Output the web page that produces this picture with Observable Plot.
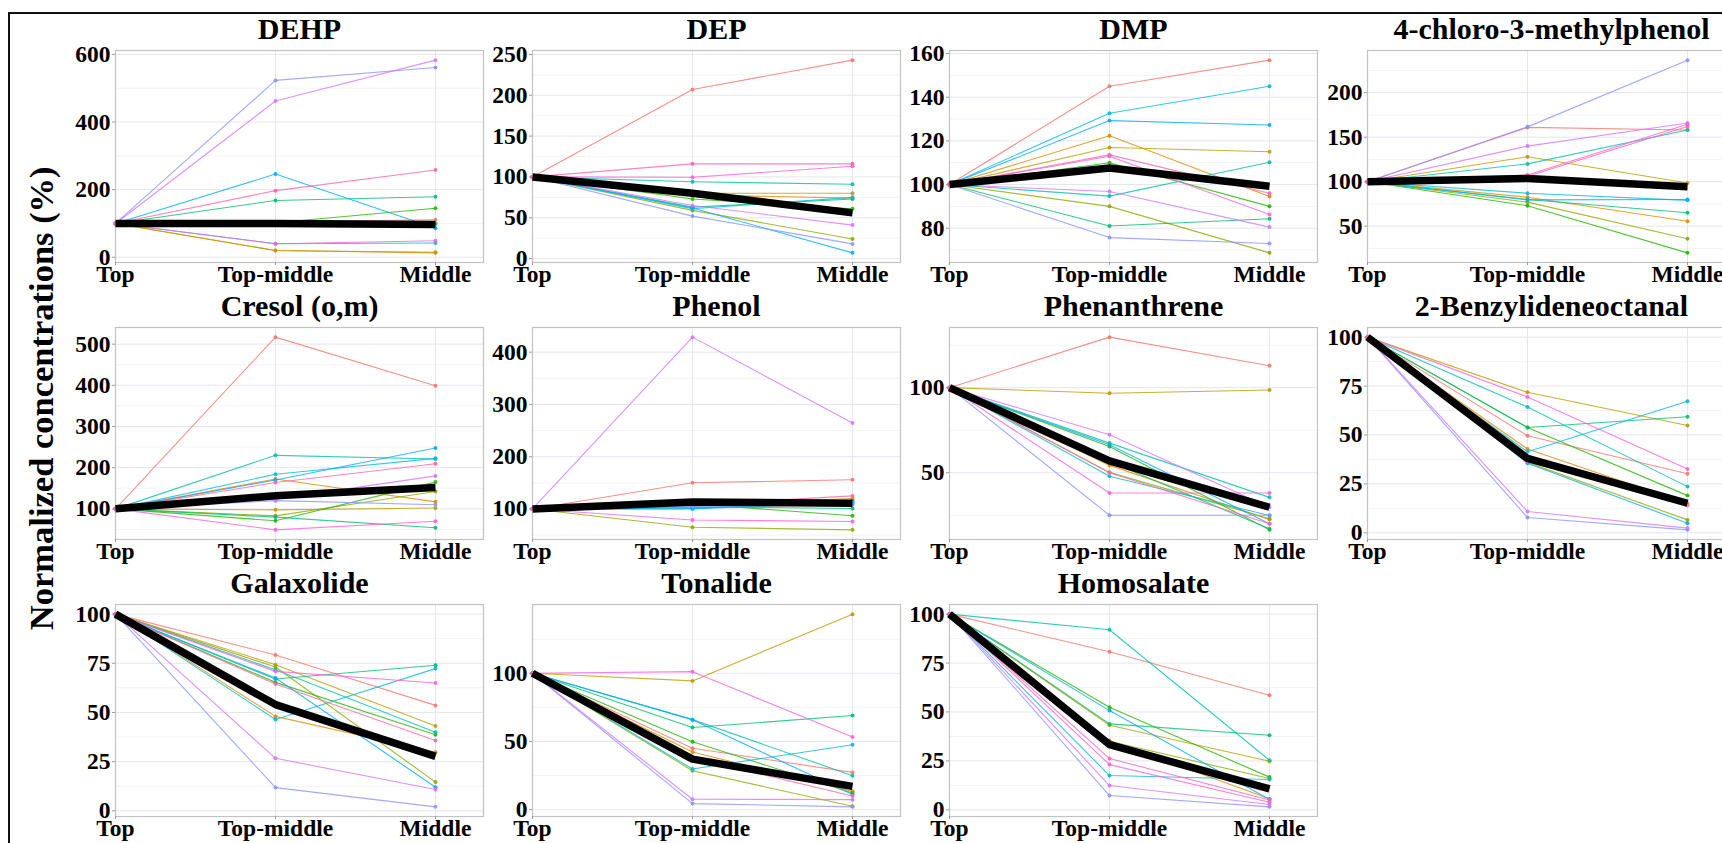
<!DOCTYPE html>
<html>
<head>
<meta charset="utf-8">
<script src="https://cdn.jsdelivr.net/npm/d3@7"></script>
<script src="https://cdn.jsdelivr.net/npm/@observablehq/plot@0.6"></script>
<style>
  html, body { margin: 0; padding: 0; background: #fff; overflow: hidden; }
  #wrap { position: relative; width: 1722px; height: 843px; overflow: hidden; background: #fff; }
  #frame { position: absolute; left: 8px; top: 12px; width: 2000px; height: 2000px;
           border-left: 2.5px solid #111; border-top: 2.5px solid #111; }
  .panel { position: absolute; }
  .panel svg { max-width: none !important; display: block; }
  .panel svg, .panel svg g, .panel svg text { font-family: "Liberation Serif", serif !important; font-weight: bold !important; }
  #ylab { position: absolute; width: 800px; height: 34.5px; line-height: 1; text-align: center;
          font-family: "Liberation Serif", serif; font-weight: bold; font-size: 34.5px;
          color: #000; transform: rotate(-90deg); white-space: nowrap; }
</style>
</head>
<body>
<div id="wrap"><div id="frame"></div><div id="ylab">Normalized concentrations (%)</div></div>
<script>
// ---------------- data ----------------
const xLabels = ["Top", "Top-middle", "Middle"];
const topValue = 100;
const seriesIds = ["S1","S2","S3","S4","S5","S6","S7","S8","S9","S10","S11","S12","S13"];
const seriesColors = ["#F8766D","#E18A00","#BE9C00","#8CAB00","#24B700","#00BE70","#00C1AB","#00BBDA","#00ACFC","#8B93FF","#D575FE","#F962DD","#FF65AC"];

const compounds = ["DEHP","DEP","DMP","4-chloro-3-methylphenol","Cresol (o,m)","Phenol","Phenanthrene","2-Benzylideneoctanal","Galaxolide","Tonalide","Homosalate"];

// [Top-middle, Middle] per series (Top = 100 for all)
const dehp = [[105,111],[20,13],[20,15],[98,100],[102,145],[168,179],[95,98],[40,42],[246,86],[523,561],[462,583],[40,49],[197,258]];
const dep = [[207,243],[78,74],[80,80],[59,24],[73,61],[63,73],[94,91],[61,75],[62,7],[52,18],[65,41],[99.6,113],[116,116]];
const dmp = [[145,157],[122.4,94.5],[117,115],[90,68.7],[110,90],[81,84.3],[94.7,110.2],[132.7,145],[129.3,127.3],[75.7,73],[96.8,80.5],[113,86.3],[113.6,96]];
const chloro = [[161,158],[82.5,55.6],[128,98.5],[77,35.8],[73,20],[80,65],[120,158],[87,79],[79.5,80],[161.6,236.6],[140,166],[107.5,164.5],[106,162]];
const cresol = [[517,399],[172.6,117],[97.6,102],[83,142],[71,165],[80,54],[230,221],[184,222.6],[170,247.6],[120,110],[123,180],[49,70],[164,209.7]];
const phenol = [[150,156],[106,117],[108,120],[65,60],[110,87],[104,101],[102,110],[100,112.7],[101,115],[105,108],[428.7,264.6],[79,76],[108,125]];
const phenanthrene = [[129.7,112.9],[54.3,22.5],[96.7,98.6],[50.2,22.9],[65.4,16.4],[56.6,17],[67.4,35.5],[47.9,24.8],[66.4,20],[25,25],[72.3,29.7],[38.1,38.1],[50,20]];
const benzyl = [[49.6,30.2],[42.8,15],[71.8,54.8],[36,6.6],[53.8,19],[53.8,59.3],[64.3,23.6],[41.4,67.2],[35.5,4.9],[7.8,1.5],[10.9,2.4],[69.4,32.6],[36.5,14]];
const galaxolide = [[79.2,53.6],[48,29.8],[74.3,43.1],[73.1,14.6],[65.3,38.7],[67,74],[71.7,39.9],[46.4,72.3],[67.5,12],[11.8,2],[26.7,10.8],[70.9,65],[64.5,35.7]];
const tonalide = [[45,27.3],[42.2,13.4],[94.4,143.4],[28.5,2.4],[49.8,12.2],[60.2,69],[66,24.9],[29.8,47.6],[66,11],[4.4,2],[7.6,7.3],[101.2,53.2],[38,10]];
const homosalate = [[80.8,58.5],[35.4,5.6],[43.2,24.8],[35,16],[52.4,16.7],[43.9,38.1],[92,25.3],[17.5,15.5],[50.7,5.3],[7.3,1.5],[12.4,2.7],[23.1,3.9],[26.2,5]];

// summary (thick black) line: Top, Top-middle, Middle
const dehpMean = [100,100,97];
const depMean = [100,80,56];
const dmpMean = [100,107.6,99.2];
const chloroMean = [100,103.7,94.4];
const cresolMean = [100,132,151.6];
const phenolMean = [100,113.3,111];
const phenanthreneMean = [100,57,29.7];
const benzylMean = [100,38,15.1];
const galaxolideMean = [100,54,27.7];
const tonalideMean = [100,37,17];
const homosalateMean = [100,33.3,10.7];

// y tick labels per panel
const dehpTicks = [0,200,400,600];
const depTicks = [0,50,100,150,200,250];
const dmpTicks = [80,100,120,140,160];
const chloroTicks = [50,100,150,200];
const cresolTicks = [100,200,300,400,500];
const phenolTicks = [100,200,300,400];
const phenanthreneTicks = [50,100];
const benzylTicks = [0,25,50,75,100];
const galaxolideTicks = [0,25,50,75,100];
const tonalideTicks = [0,50,100];
const homosalateTicks = [0,25,50,75,100];

const panelValues = [dehp, dep, dmp, chloro, cresol, phenol, phenanthrene, benzyl, galaxolide, tonalide, homosalate];
const panelMeans = [dehpMean, depMean, dmpMean, chloroMean, cresolMean, phenolMean, phenanthreneMean, benzylMean, galaxolideMean, tonalideMean, homosalateMean];
const panelTicks = [dehpTicks, depTicks, dmpTicks, chloroTicks, cresolTicks, phenolTicks, phenanthreneTicks, benzylTicks, galaxolideTicks, tonalideTicks, homosalateTicks];

// ---------------- layout ----------------
const colLefts = [115, 532, 949, 1367];
const rowTops = [50, 327, 604];
const PW = 368, PH = 212;
const ML = 72, MR = 4, MT = 42, MB = 34;
const FONT = '"Liberation Serif", serif';

const wrap = document.getElementById("wrap");
const ylab = document.getElementById("ylab");
ylab.style.left = (41 - 400) + "px";
ylab.style.top = (398 - 17.25) + "px";

compounds.forEach((title, k) => {
  const col = k % 4, row = Math.floor(k / 4);
  const vals = panelValues[k], mean = panelMeans[k], ticks = panelTicks[k];
  const rows = [];
  vals.forEach((v, i) => {
    [topValue, v[0], v[1]].forEach((y, x) => rows.push({s: seriesIds[i], x, y}));
  });
  const meanRows = mean.map((y, x) => ({x, y}));
  const all = rows.map(d => d.y).concat(mean);
  const [lo, hi] = d3.extent(all);
  const pad = (hi - lo) * 0.05;
  const dom = [lo - pad, hi + pad];
  const step = ticks[1] - ticks[0];
  const minors = ticks.map(t => t - step / 2).concat([ticks[ticks.length - 1] + step / 2])
    .filter(t => t > dom[0] && t < dom[1]);

  const W = ML + PW + MR, H = MT + PH + MB;
  const chart = Plot.plot({
    width: W, height: H,
    marginLeft: ML, marginRight: MR, marginTop: MT, marginBottom: MB,
    x: {domain: [0, 2.3], label: null},
    y: {domain: dom, label: null},
    color: {domain: seriesIds, range: seriesColors},
    style: {fontFamily: FONT, fontSize: "23.5px", fontWeight: "bold", color: "#000", background: "transparent", overflow: "visible"},
    marks: [
      Plot.ruleY(minors, {stroke: "#f1f3f6", strokeWidth: 1}),
      Plot.ruleY(ticks, {stroke: "#e3e6ec", strokeWidth: 1}),
      Plot.ruleX([0, 1, 2], {stroke: "#e3e6ec", strokeWidth: 1}),
      Plot.frame({stroke: "#c2c2c2", strokeWidth: 1.2}),
      Plot.axisY({ticks, tickSize: 3, tickPadding: 2, stroke: "#9a9a9a", fill: "#000", fontSize: 23.5, fontWeight: "bold", fontFamily: FONT, fontVariant: "normal", label: null}),
      Plot.axisX({ticks: [0, 1, 2], tickFormat: i => xLabels[i], tickSize: 3, tickPadding: 0, stroke: "#9a9a9a", fill: "#000", fontSize: 23.5, fontWeight: "bold", fontFamily: FONT, fontVariant: "normal", label: null}),
      Plot.line(rows, {x: "x", y: "y", z: "s", stroke: "s", strokeWidth: 1.1, strokeOpacity: 0.8}),
      Plot.dot(rows, {x: "x", y: "y", fill: "s", r: 2, fillOpacity: 0.9}),
      Plot.line(meanRows, {x: "x", y: "y", stroke: "#000", strokeWidth: 7.5, strokeLinejoin: "round", strokeLinecap: "butt"}),
      Plot.text([title], {frameAnchor: "top", dy: -21, lineAnchor: "middle", fontSize: 30, fontWeight: "bold", fontFamily: FONT, fill: "#000"})
    ]
  });
  const holder = document.createElement("div");
  holder.className = "panel";
  holder.style.left = (colLefts[col] - ML) + "px";
  holder.style.top = (rowTops[row] - MT) + "px";
  holder.style.width = W + "px";
  holder.style.height = H + "px";
  chart.style.width = W + "px";
  chart.style.height = H + "px";
  holder.appendChild(chart);
  wrap.appendChild(holder);
});
</script>
</body>
</html>
